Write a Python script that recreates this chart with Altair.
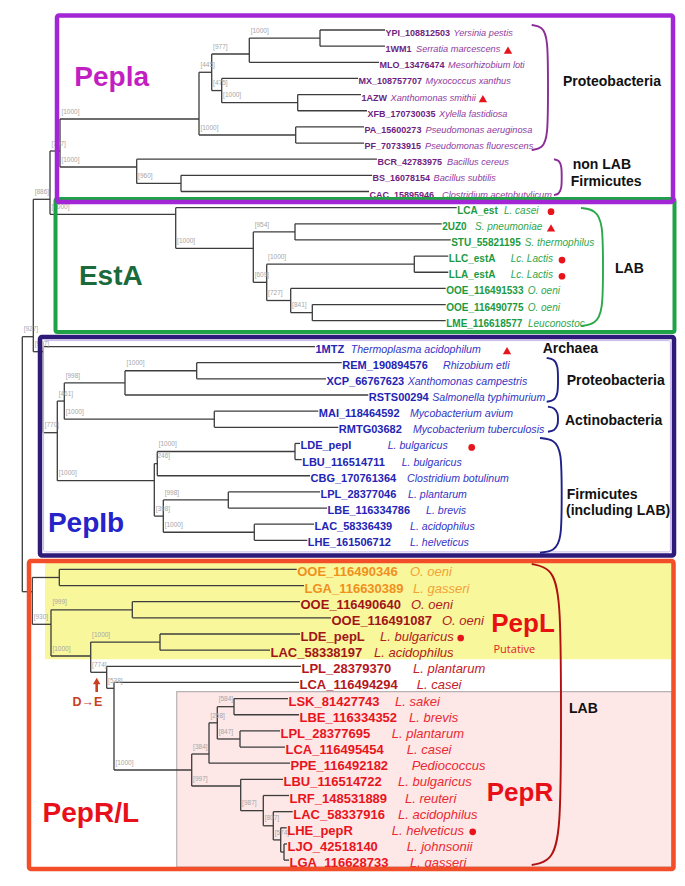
import altair as alt
import pandas as pd

# ---------------- data ----------------
ids = ["YPI_108812503", "1WM1", "MLO_13476474", "MX_108757707", "1AZW", "XFB_170730035",
       "PA_15600273", "PF_70733915", "BCR_42783975", "BS_16078154", "CAC_15895946",
       "LCA_est", "2UZ0", "STU_55821195", "LLC_estA", "LLA_estA", "OOE_116491533",
       "OOE_116490775", "LME_116618577",
       "1MTZ", "REM_190894576", "XCP_66767623", "RSTS00294", "MAI_118464592", "RMTG03682",
       "LDE_pepI", "LBU_116514711", "CBG_170761364", "LPL_28377046", "LBE_116334786",
       "LAC_58336439", "LHE_161506712",
       "OOE_116490346", "LGA_116630389", "OOE_116490640", "OOE_116491087", "LDE_pepL",
       "LAC_58338197", "LPL_28379370", "LCA_116494294", "LSK_81427743", "LBE_116334352",
       "LPL_28377695", "LCA_116495454", "PPE_116492182", "LBU_116514722", "LRF_148531889",
       "LAC_58337916", "LHE_pepR", "LJO_42518140", "LGA_116628733"]

species = ["Yersinia pestis", "Serratia marcescens", "Mesorhizobium loti", "Myxococcus xanthus",
           "Xanthomonas smithii", "Xylella fastidiosa", "Pseudomonas aeruginosa",
           "Pseudomonas fluorescens", "Bacillus cereus", "Bacillus subtilis",
           "Clostridium acetobutylicum",
           "L. casei", "S. pneumoniae", "S. thermophilus", "Lc. Lactis", "Lc. Lactis",
           "O. oeni", "O. oeni", "Leuconostoc",
           "Thermoplasma acidophilum", "Rhizobium etli", "Xanthomonas campestris",
           "Salmonella typhimurium", "Mycobacterium avium", "Mycobacterium tuberculosis",
           "L. bulgaricus", "L. bulgaricus", "Clostridium botulinum", "L. plantarum",
           "L. brevis", "L. acidophilus", "L. helveticus",
           "O. oeni", "L. gasseri", "O. oeni", "O. oeni", "L. bulgaricus", "L. acidophilus",
           "L. plantarum", "L. casei", "L. sakei", "L. brevis", "L. plantarum", "L. casei",
           "Pediococcus", "L. bulgaricus", "L. reuteri", "L. acidophilus", "L. helveticus",
           "L. johnsonii", "L. gasseri"]

# colour class of every leaf label
leaf_class = (["pepla"] * 11 + ["esta"] * 8 + ["pepib"] * 13 +
              ["orange"] * 2 + ["pepl"] * 4 + ["mid"] * 2 + ["pepr"] * 11)

group_sizes = [11, 8, 13, 19]

# cumulative branch length at every leaf tip
tip_x = [385, 385, 379, 358, 361, 367, 364, 364, 377, 372, 369,
         456.7, 441.7, 450.7, 448.3, 448.3, 445.7, 445.7, 445.7,
         315, 341.7, 326, 368.3, 318.3, 338.3, 300, 301.7, 310, 320, 327, 314, 307.3,
         296.7, 304, 300, 331, 300, 270, 301, 299, 288, 299, 280, 285, 290, 283, 289,
         292.7, 286.7, 287, 289]

# tree: [node depth, node row override (or None), bootstrap, children...]; ints are leaves
tree = [22.3, None, None,
        [33.3, 336.7, "[927]",
         [50, 199.3, "[886]",
          [60, 151, "[797]",
           [199, 119, "[1000]",
            [211.7, None, "[445]",
             [249.3, 54, "[977]", [320, None, "[1000]", 0, 1], 2],
             [221.7, None, "[475]", 3, [297.7, None, "[1000]", 4, 5]]],
            [295.7, None, "[1000]", 6, 7]],
           [136.7, 167, "[1000]", 8, [181, None, "[960]", 9, 10]]],
          [175.7, 214.3, "[1000]", 11,
           [253.3, 248.3, "[1000]",
            [295, None, "[954]", 12, 13],
            [266.7, None, "[609]",
             [414.3, None, "[1000]", 14, 15],
             [290.7, None, "[727]", 16, [312.3, None, "[841]", 17, 18]]]]]],
         [43.3, 351.7, "[997]", 19,
          [57.3, 432.7, "[770]",
           [64.3, None, "[461]",
            [125, None, "[998]", [196.7, None, "[1000]", 20, 21], 22],
            [214.3, None, "[1000]", 23, 24]],
           [154.3, 480.7, "[1000]",
            [157.3, None, "[246]", [295, None, "[1000]", 25, 26], 27],
            [163.3, None, "[398]", [228.3, None, "[998]", 28, 29],
             [254.3, None, "[1000]", 30, 31]]]]]],
        [32.3, 591.7, None,
         [59.3, None, None, 32, 33],
         [51, 624.3, "[930]",
          [132.3, None, "[999]", 34, 35],
          [90.7, 656, "[1000]",
           [160, None, "[1000]", 36, 37],
           [106.7, 672.3, "[774]", 38,
            [114, 688.3, "[538]", 39,
             [191.7, 770, "[1000]",
              [209, 754, "[384]",
               [217.3, None, "[258]", [234, None, "[584]", 40, 41],
                [240, None, "[847]", 42, 43]],
               44],
              [240.7, 786, "[997]", 45,
               [263.3, None, "[987]", 46,
                [273.3, None, "[807]", 47,
                 [280.7, None, "[574]", 48, [284, None, None, 49, 50]]]]]]]]]]]]

# markers: (leaf, kind)
marker_leaf = [1, 4, 11, 12, 14, 15, 19, 25, 36, 48]
marker_kind = ["triangle-up", "triangle-up", "circle", "triangle-up", "circle", "circle",
               "triangle-up", "circle", "circle", "circle"]

# ---------------- layout / style ----------------
Y0, ROW_H = 30, 16.15
GROUP_GAP = [0, 0, 0.6, 1.4]
species_x = [448.3, 416, 445, 415, 387, 424, 424, 425, 447, 432, 442,
             504, 475, 510.7, 510.7, 510.7, 527.7, 527.7, 528,
             350.7, 443, 405, 429, 410, 413, 387.7, 401.7, 407, 408, 426, 410, 410,
             410, 413, 411, 442, 380, 374, 413, 416.7, 395, 409, 391.7, 406.7, 411.7,
             398, 405, 398, 391.7, 406.7, 410]
marker_x = [508, 478, 551, 551, 562, 562, 507, 471.7, 460, 472.7]

ID_COLOR = {"pepla": "#6F1D7F", "esta": "#1C9A41", "pepib": "#2424B4", "orange": "#F0901C",
            "pepl": "#A01418", "mid": "#B4161C", "pepr": "#E8141C"}
SP_COLOR = {"pepla": "#8E3A9E", "esta": "#2FA64E", "pepib": "#3535C4", "orange": "#F3A134",
            "pepl": "#B01C20", "mid": "#C42028", "pepr": "#EA2A32"}
ID_SIZE = {"pepla": 9, "esta": 10, "pepib": 11, "orange": 13, "pepl": 13, "mid": 13, "pepr": 13}
SP_SIZE = {"pepla": 9.2, "esta": 10, "pepib": 10.6, "orange": 13, "pepl": 13, "mid": 13,
           "pepr": 13}

SANS = "Liberation Sans, Arial, sans-serif"

# approximate advance widths (em) of Liberation Sans, used only to keep labels apart
_REG = dict(zip("abcdefghijklmnopqrstuvwxyz",
                [.556, .556, .5, .556, .556, .278, .556, .556, .222, .222, .5, .222, .833,
                 .556, .556, .556, .556, .333, .5, .278, .556, .5, .722, .5, .5, .5]))
_REG.update(dict(zip("ABCDEFGHIJKLMNOPQRSTUVWXYZ",
                     [.667, .667, .722, .722, .667, .611, .778, .722, .278, .5, .667, .556,
                      .833, .722, .778, .667, .778, .722, .667, .611, .722, .667, .944, .667,
                      .667, .611])))
_REG.update({" ": .278, ".": .278, "_": .556})
_BOLD = dict(zip("abcdefghijklmnopqrstuvwxyz",
                 [.556, .611, .556, .611, .556, .333, .611, .611, .278, .278, .556, .278, .889,
                  .611, .611, .611, .611, .389, .556, .333, .611, .556, .778, .556, .556, .5]))
_BOLD.update(dict(zip("ABCDEFGHIJKLMNOPQRSTUVWXYZ",
                      [.722, .722, .722, .722, .667, .611, .778, .722, .278, .556, .722, .611,
                       .833, .722, .778, .667, .778, .722, .667, .611, .722, .667, .944, .667,
                       .667, .611])))
_BOLD.update({" ": .278, ".": .278, "_": .556})


def text_w(s, size, bold):
    table = _BOLD if bold else _REG
    return sum(table.get(ch, .556) for ch in s) * size


leaf_group = []
for g, n in enumerate(group_sizes):
    leaf_group += [g] * n
leaf_y = [Y0 + ROW_H * (i + GROUP_GAP[g]) for i, g in enumerate(leaf_group)]

sp_x = [max(species_x[i], tip_x[i] + 0.5 + text_w(ids[i], ID_SIZE[leaf_class[i]], True) + 3.5)
        for i in range(len(ids))]
sp_end = [sp_x[i] + text_w(species[i], SP_SIZE[leaf_class[i]], False) for i in range(len(ids))]
mk_x = [max(marker_x[k], sp_end[i] + 7) for k, i in enumerate(marker_leaf)]

segs, boots = [], []


def walk(node, parent_x):
    if isinstance(node, int):
        y = leaf_y[node]
        segs.append(dict(x=parent_x, x2=tip_x[node], y=y, y2=y))
        return y
    x, yo, lab, *kids = node
    ys = [walk(k, x) for k in kids]
    y = yo if yo is not None else (ys[0] + ys[-1]) / 2
    segs.append(dict(x=x, x2=x, y=min(ys), y2=max(ys)))
    if parent_x is not None:
        segs.append(dict(x=parent_x, x2=x, y=y, y2=y))
        if lab:
            boots.append(dict(x=parent_x + 1.4, y=y - 7.3, t=lab))
    return y


walk(tree, None)

XS = alt.Scale(domain=[8, 677], nice=False, zero=False)
YS = alt.Scale(domain=[8, 878], nice=False, zero=False, reverse=True)


def X(f="x"):
    return alt.X(f + ":Q", scale=XS, axis=None)


def Y(f="y"):
    return alt.Y(f + ":Q", scale=YS, axis=None)


# background panels (yellow PepL region, pink PepR region)
panels = pd.DataFrame([
    dict(x=45, x2=672, y=562, y2=659.3, f="#F9F79C", s="#F9F79C", w=0),
    dict(x=176.7, x2=672, y=691.7, y2=867, f="#FDE7E7", s="#B9B2B2", w=1.2),
])
panel_layer = alt.Chart(panels).mark_rect().encode(
    x=X(), x2="x2:Q", y=Y(), y2="y2:Q",
    fill=alt.Fill("f:N", scale=None), stroke=alt.Stroke("s:N", scale=None),
    strokeWidth=alt.StrokeWidth("w:Q", scale=None))

tree_layer = alt.Chart(pd.DataFrame(segs)).mark_rule(color="#3C3C3C", strokeWidth=1.3).encode(
    x=X(), x2="x2:Q", y=Y(), y2="y2:Q")

boot_layer = alt.Chart(pd.DataFrame(boots)).mark_text(
    align="left", baseline="middle", font=SANS, fontSize=6.5, color="#A6A6A6").encode(
    x=X(), y=Y(), text="t:N")

leaves = pd.DataFrame(dict(
    x=tip_x, y=leaf_y, t=ids, sx=sp_x, sp=species,
    c=[ID_COLOR[k] for k in leaf_class], sc=[SP_COLOR[k] for k in leaf_class],
    fs=[ID_SIZE[k] for k in leaf_class], sfs=[SP_SIZE[k] for k in leaf_class]))

id_layer = alt.Chart(leaves).mark_text(
    align="left", baseline="middle", font=SANS, fontWeight="bold", dx=0.5, dy=3).encode(
    x=X(), y=Y(), text="t:N", color=alt.Color("c:N", scale=None),
    size=alt.Size("fs:Q", scale=None))

sp_layer = alt.Chart(leaves).mark_text(
    align="left", baseline="middle", font=SANS, fontStyle="italic", dy=3).encode(
    x=X("sx"), y=Y(), text="sp:N", color=alt.Color("sc:N", scale=None),
    size=alt.Size("sfs:Q", scale=None))

# group boxes
boxes = pd.DataFrame([
    dict(x=55.5, x2=674.5, y=199, y2=332, s="#1FA247", w=4),
    dict(x=57, x2=673, y=15.5, y2=202, s="#A226D6", w=4.5),
    dict(x=40, x2=674, y=337, y2=555.5, s="#2E1A78", w=4.5),
    dict(x=43.6, x2=670.4, y=340.6, y2=551.9, s="#C8B8EE", w=1),
    dict(x=29, x2=673.5, y=561, y2=869, s="#F24E2A", w=4.5),
])
box_layer = alt.Chart(boxes).mark_rect(fillOpacity=0, fill="white", cornerRadius=2).encode(
    x=X(), x2="x2:Q", y=Y(), y2="y2:Q",
    stroke=alt.Stroke("s:N", scale=None), strokeWidth=alt.StrokeWidth("w:Q", scale=None))

# curly brackets
brace_specs = [
    (531.7, 548, 25, 150, 13, "#8B2C97"),
    (554, 561.7, 159.3, 195, 7, "#8B2C97"),
    (581, 603, 208, 326, 15, "#2BA84A"),
    (546.7, 558, 358, 401.7, 8, "#20208A"),
    (548, 558, 406.7, 431.7, 7, "#20208A"),
    (540, 561.7, 438, 552.7, 13, "#20208A"),
    (531.7, 561, 564, 865, 30, "#B01010"),
]
brace_rows = []
for b, (xl, xr, yt, yb, hk, col) in enumerate(brace_specs):
    pts = [(xl, yt), (xr - 0.35 * (xr - xl), yt + 0.12 * hk), (xr, yt + hk),
           (xr, (yt + yb) / 2), (xr, yb - hk), (xr - 0.35 * (xr - xl), yb - 0.12 * hk), (xl, yb)]
    for o, (px, py) in enumerate(pts):
        brace_rows.append(dict(x=px, y=py, b=b, o=o, c=col))
brace_layer = alt.Chart(pd.DataFrame(brace_rows)).mark_line(
    interpolate="basis", strokeWidth=1.9).encode(
    x=X(), y=Y(), detail="b:N", order="o:Q", color=alt.Color("c:N", scale=None))

# black taxonomic labels
tax = pd.DataFrame([
    dict(x=563, y=82, t="Proteobacteria"),
    dict(x=572.7, y=165, t="non LAB"),
    dict(x=570.7, y=182, t="Firmicutes"),
    dict(x=615, y=269, t="LAB"),
    dict(x=542.7, y=349, t="Archaea"),
    dict(x=566.7, y=381, t="Proteobacteria"),
    dict(x=565, y=421, t="Actinobacteria"),
    dict(x=566.7, y=495, t="Firmicutes"),
    dict(x=566, y=511, t="(including LAB)"),
    dict(x=569, y=709, t="LAB"),
])
tax_layer = alt.Chart(tax).mark_text(
    align="left", baseline="middle", font=SANS, fontWeight="bold", fontSize=14,
    color="#111111").encode(x=X(), y=Y(), text="t:N")

titles = pd.DataFrame([
    dict(x=111.7, y=86, t="Pepla", c="#C21FC2", s=28),
    dict(x=110.8, y=285, t="EstA", c="#1B6A3C", s=28),
    dict(x=86, y=532, t="PepIb", c="#2424C8", s=28),
    dict(x=90.8, y=822, t="PepR/L", c="#E8101A", s=28),
    dict(x=523, y=632, t="PepL", c="#E81010", s=26),
    dict(x=520, y=801, t="PepR", c="#E81018", s=26),
])
title_layer = alt.Chart(titles).mark_text(
    align="center", baseline="alphabetic", font=SANS, fontWeight="bold").encode(
    x=X(), y=Y(), text="t:N", color=alt.Color("c:N", scale=None),
    size=alt.Size("s:Q", scale=None))

putative = alt.Chart(pd.DataFrame([dict(x=493.5, y=653, t="Putative")])).mark_text(
    align="left", baseline="alphabetic", font="Open Sans", fontSize=11, color="#E02424").encode(
    x=X(), y=Y(), text="t:N")

marks = pd.DataFrame(dict(
    x=mk_x, y=[leaf_y[i] + 4 for i in marker_leaf], shape=marker_kind,
    sz=[70 if k == "triangle-up" else 45 for k in marker_kind]))
marker_layer = alt.Chart(marks).mark_point(filled=True, opacity=1, color="#E8141C").encode(
    x=X(), y=Y(), shape=alt.Shape("shape:N", scale=None), size=alt.Size("sz:Q", scale=None))

# D -> E mutation arrow
arrow_shaft = alt.Chart(pd.DataFrame([dict(x=96.7, y=682, y2=692)])).mark_rule(
    color="#C8401E", strokeWidth=2.6).encode(x=X(), y=Y(), y2="y2:Q")
arrow_head = alt.Chart(pd.DataFrame([dict(x=96.7, y=681)])).mark_point(
    shape="triangle-up", filled=True, opacity=1, size=55, color="#C8401E").encode(x=X(), y=Y())
de_text = alt.Chart(pd.DataFrame([dict(x=87.5, y=702, t="D→E")])).mark_text(
    align="center", baseline="middle", font=SANS, fontWeight="bold", fontSize=12.5,
    color="#C8401E").encode(x=X(), y=Y(), text="t:N")

chart = alt.layer(
    panel_layer, tree_layer, boot_layer, id_layer, sp_layer, box_layer, brace_layer,
    tax_layer, title_layer, putative, marker_layer, arrow_shaft, arrow_head, de_text
).properties(
    width=669, height=870, padding=0, autosize=alt.AutoSizeParams(type="none")
).configure_view(stroke=None)

chart.save("out.html", embed_options={"renderer": "svg", "actions": False})
